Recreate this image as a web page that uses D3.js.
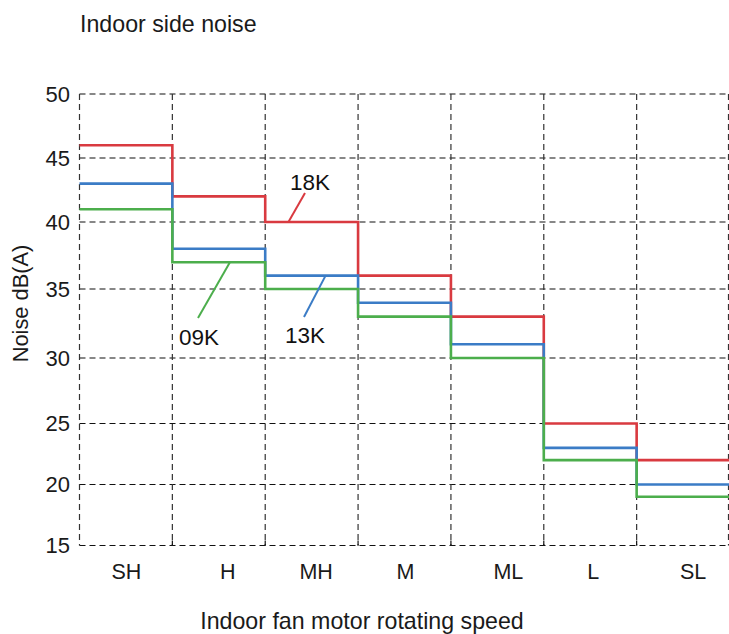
<!DOCTYPE html>
<html>
<head>
<meta charset="utf-8">
<script src="https://cdn.jsdelivr.net/npm/d3@7"></script>
<style>
  html, body { margin: 0; padding: 0; background: #fff; }
  svg { display: block; font-family: "Liberation Sans", Arial, sans-serif; }
</style>
</head>
<body>
<svg id="chart" width="729" height="634"></svg>
<script>
// ---- data ----
const categories = ["SH", "H", "MH", "M", "ML", "L", "SL"];
const yTicks = [15, 20, 25, 30, 35, 40, 45, 50];
const seriesNames = ["18K", "13K", "09K"];
const values18K = [46, 42, 40, 36, 33, 25, 22];
const values13K = [43, 38, 36, 34, 31, 23, 20];
const values09K = [41, 37, 35, 33, 30, 22, 19];

// ---- layout / style ----
const colors = { "18K": "#d93a40", "13K": "#3b7cc6", "09K": "#4cae4c" };
const plotLeft = 79.5, plotRight = 729.5, plotTop = 94, plotBottom = 545.5;
// the source grid is not perfectly uniform; map each tick to its drawn row
const tickRows = [545.5, 484.5, 423.5, 358, 289, 222, 158, 94];
const labelDx = [0.5, 9, 4.5, 1, 11, 3, 10];
const textColor = "#1a1a1a";

const svg = d3.select("#chart");
const x = d3.scaleBand().domain(categories).range([plotLeft, plotRight]).paddingInner(0).paddingOuter(0);
const y = d3.scaleLinear().domain(yTicks).range(tickRows);

const grid = svg.append("g");
// horizontal gridlines
grid.selectAll("line.h").data(yTicks).join("line")
  .attr("x1", plotLeft).attr("x2", plotRight - 1)
  .attr("y1", d => y(d)).attr("y2", d => y(d))
  .attr("stroke", "#111").attr("stroke-width", 1.2)
  .attr("stroke-dasharray", "6,4");
// vertical gridlines (column boundaries + frame)
const bounds = categories.map(c => x(c)).concat([x(categories[categories.length - 1]) + x.bandwidth() - 1]);
grid.selectAll("line.v").data(bounds).join("line")
  .attr("x1", d => d).attr("x2", d => d)
  .attr("y1", plotTop).attr("y2", plotBottom)
  .attr("stroke", "#333").attr("stroke-width", 1.2)
  .attr("stroke-dasharray", "6,4");
// small tick marks at the bottom
grid.selectAll("line.t").data(bounds.slice(1, -1)).join("line")
  .attr("x1", d => d).attr("x2", d => d)
  .attr("y1", plotBottom - 5).attr("y2", plotBottom)
  .attr("stroke", "#111").attr("stroke-width", 1.2);

// y tick labels
svg.append("g").selectAll("text").data(yTicks).join("text")
  .attr("x", 70).attr("y", d => y(d)).attr("dy", "0.36em")
  .attr("text-anchor", "end").attr("font-size", 22).attr("fill", textColor)
  .text(d => d);

// x category labels
svg.append("g").selectAll("text").data(categories).join("text")
  .attr("x", (d, i) => x(d) + x.bandwidth() / 2 + labelDx[i]).attr("y", 579)
  .attr("text-anchor", "middle").attr("font-size", 21.5).attr("fill", textColor)
  .text(d => d);

// titles
svg.append("text").attr("x", 80).attr("y", 32).attr("font-size", 23.2).attr("fill", textColor)
  .text("Indoor side noise");
svg.append("text").attr("x", 362).attr("y", 629).attr("text-anchor", "middle")
  .attr("font-size", 23.2).attr("fill", textColor).text("Indoor fan motor rotating speed");
svg.append("text").attr("transform", "translate(28,303.5) rotate(-90)")
  .attr("text-anchor", "middle").attr("font-size", 21.8).attr("fill", textColor)
  .text("Noise dB(A)");

// step lines
const seriesData = { "18K": values18K, "13K": values13K, "09K": values09K };
const line = d3.line().x(d => d[0]).y(d => y(d[1]));
seriesNames.forEach(name => {
  const vals = seriesData[name];
  const pts = [];
  categories.forEach((c, i) => {
    pts.push([x(c), vals[i]]);
    pts.push([x(c) + x.bandwidth(), vals[i]]);
  });
  svg.append("path").datum(pts)
    .attr("fill", "none").attr("stroke", colors[name]).attr("stroke-width", 2.6)
    .attr("d", line);
});

// leader annotations
const annots = [
  { name: "18K", idx: 2, frac: 0.25, tx: 310, ty: 190, sx: 305, sy: 193 },
  { name: "13K", idx: 2, frac: 0.65, tx: 305, ty: 343, sx: 304, sy: 317 },
  { name: "09K", idx: 1, frac: 0.62, tx: 199, ty: 345, sx: 198, sy: 318 }
];
annots.forEach(a => {
  const vals = seriesData[a.name];
  const ex = x(categories[a.idx]) + x.bandwidth() * a.frac;
  const ey = y(vals[a.idx]);
  svg.append("line").attr("x1", a.sx).attr("y1", a.sy).attr("x2", ex).attr("y2", ey)
    .attr("stroke", colors[a.name]).attr("stroke-width", 2);
  svg.append("text").attr("x", a.tx).attr("y", a.ty).attr("text-anchor", "middle")
    .attr("font-size", 22.5).attr("fill", "#111").text(a.name);
});
</script>
</body>
</html>
